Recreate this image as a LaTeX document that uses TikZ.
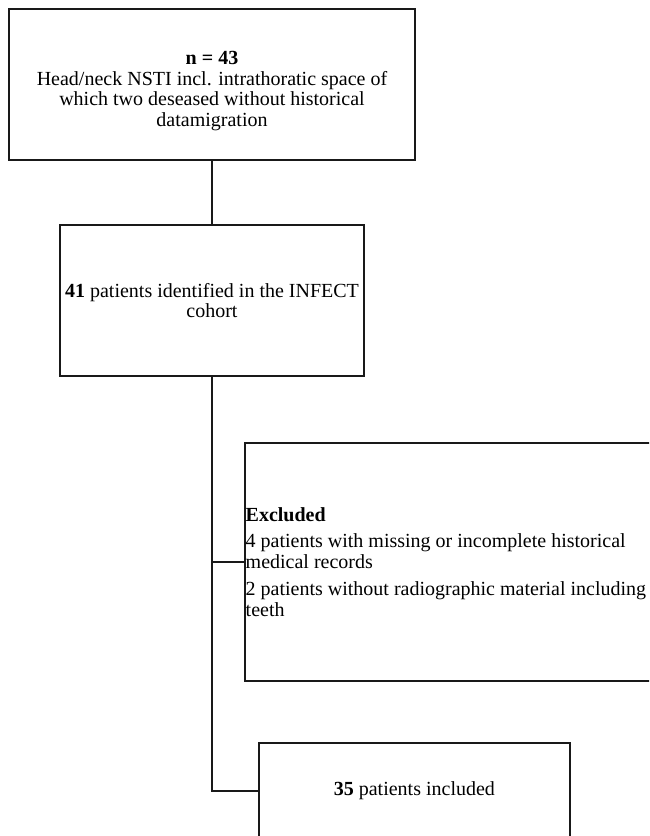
\documentclass[tikz,border=0pt]{standalone}
\usepackage{fontspec}
\setmainfont{Liberation Serif}
\begin{document}
\begin{tikzpicture}[x=1pt,y=-1pt,
  box/.style={draw=black!90, line width=1.8pt, align=center, inner sep=0pt,
    font=\fontsize{20}{20.5}\selectfont},
  txt/.style={align=center, inner sep=0pt, font=\fontsize{20}{20.5}\selectfont},
  conn/.style={draw=black!90, line width=1.8pt}]
\useasboundingbox (0,0) rectangle (649,836);
\clip (0,0) rectangle (649,836);
\node[box, minimum width=406pt, minimum height=151pt] (b1) at (212,84.5) {};
\node[txt] (t1) at (212,91)
  {\textbf{n = 43}\\
   Head/neck NSTI incl. intrathoratic space of\\
   which two deseased without historical\\
   datamigration};
\node[box, minimum width=304pt, minimum height=151pt] (b2) at (212,300.5)
  {\textbf{41} patients identified in the INFECT\\ cohort};
\node[box, anchor=west, minimum width=420pt, minimum height=238pt] (b3) at (244,562) {};
\node[txt, anchor=west, align=left] (t3) at ([xshift=1.5pt]b3.west)
  {\textbf{Excluded}\\[6pt]
   4 patients with missing or incomplete historical\\
   medical records\\[7pt]
   2 patients without radiographic material including\\
   teeth};
\node[box, anchor=west, minimum width=311pt, minimum height=96pt] (b4) at (258,791)
  {\textbf{35} patients included};
\draw[conn] (b1.south) -- (b2.north);
\draw[conn] (b2.south) |- (b4.west);
\draw[conn] (b2.south |- b3.west) -- (b3.west);
\end{tikzpicture}
\end{document}
